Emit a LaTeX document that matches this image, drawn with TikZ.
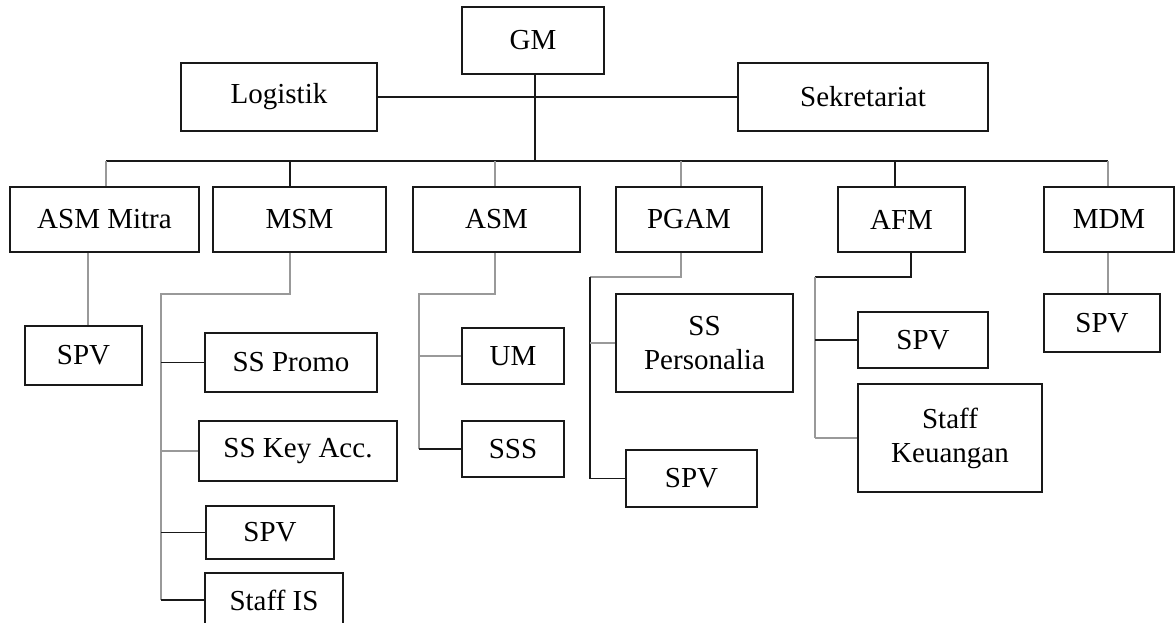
\documentclass[tikz,border=0pt]{standalone}
\usepackage{fontspec}
\setmainfont{Liberation Serif}
\begin{document}
\begin{tikzpicture}[x=1pt,y=-1pt,
  box/.style={draw=black!90, line width=1.6pt, inner sep=0pt, align=center, fill=white,
              font=\fontsize{29}{34}\selectfont},
  blk/.style={draw=black!90, line width=1.6pt},
  gry/.style={draw=black!40, line width=1.8pt}]
\useasboundingbox (0,0) rectangle (1176,622);
\clip (0,0) rectangle (1176,622);
\fill[white] (0,0) rectangle (1176,622);

% top level
\node[box, minimum width=142, minimum height=67] (GM)  at (533,40.5) {GM};
\node[box, minimum width=196, minimum height=68] (Log) at (279,97) {Logistik};
\node[box, minimum width=250, minimum height=68] (Sek) at (863,97) {Sekretariat};

% second row
\node[box, minimum width=189, minimum height=65] (ASMM) at (104.5,219.5) {ASM Mitra};
\node[box, minimum width=173, minimum height=65] (MSM)  at (299.5,219.5) {MSM};
\node[box, minimum width=167, minimum height=65] (ASM)  at (496.5,219.5) {ASM};
\node[box, minimum width=146, minimum height=65] (PGAM) at (689,219.5) {PGAM};
\node[box, minimum width=127, minimum height=65] (AFM)  at (901.5,219.5) {AFM};
\node[box, minimum width=130, minimum height=65] (MDM)  at (1109,219.5) {MDM};

% third level
\node[box, minimum width=117, minimum height=59] (SPVa) at (83.5,355.5) {SPV};
\node[box, minimum width=172, minimum height=59] (SSP)  at (291,362.5) {SS Promo};
\node[box, minimum width=198, minimum height=60] (SSK)  at (298,451) {SS Key Acc.};
\node[box, minimum width=128, minimum height=53] (SPVb) at (270,532.5) {SPV};
\node[box, minimum width=138, minimum height=54] (SIS)  at (274,600) {Staff IS};
\node[box, minimum width=102, minimum height=56] (UM)   at (513,356) {UM};
\node[box, minimum width=102, minimum height=56] (SSS)  at (513,449) {SSS};
\node[box, minimum width=177, minimum height=98] (SSPe) at (704.5,343) {SS\\Personalia};
\node[box, minimum width=131, minimum height=57] (SPVc) at (691.5,478.5) {SPV};
\node[box, minimum width=130, minimum height=56] (SPVd) at (923,340) {SPV};
\node[box, minimum width=184, minimum height=108] (SK)  at (950,438) {Staff\\Keuangan};
\node[box, minimum width=116, minimum height=58] (SPVe) at (1102,323) {SPV};

% bus
\coordinate (b1) at (106,161);
\coordinate (b2) at (290,161);
\coordinate (b3) at (495,161);
\coordinate (b4) at (681,161);
\coordinate (b5) at (895,161);
\coordinate (b6) at (1108,161);
\draw[blk] (GM.south -| 535,0) -- (b1 -| 535,0);
\draw[blk] (Log.east) -- (Sek.west);
\draw[blk] (b1) -- (b6);
\draw[gry] (b1) -- (b1 |- ASMM.north);
\draw[blk] (b2) -- (b2 |- MSM.north);
\draw[gry] (b3) -- (b3 |- ASM.north);
\draw[gry] (b4) -- (b4 |- PGAM.north);
\draw[blk] (b5) -- (b5 |- AFM.north);
\draw[gry] (b6) -- (b6 |- MDM.north);

% ASM Mitra
\coordinate (a0) at (88,300);
\draw[gry] (a0 |- ASMM.south) -- (a0 |- SPVa.north);

% MSM
\coordinate (m0) at (290,294);
\coordinate (m1) at (161,294);
\draw[gry] (m0 |- MSM.south) -- (m0) -- (m1) -- (m1 |- SIS.west);
\draw[blk] (m1 |- SSP.west) -- (SSP.west);
\draw[gry] (m1 |- SSK.west) -- (SSK.west);
\draw[blk] (m1 |- SPVb.west) -- (SPVb.west);
\draw[blk] (m1 |- SIS.west) -- (SIS.west);

% ASM
\coordinate (s0) at (495,294);
\coordinate (s1) at (419,294);
\draw[gry] (s0 |- ASM.south) -- (s0) -- (s1) -- (s1 |- SSS.west);
\draw[gry] (s1 |- UM.west) -- (UM.west);
\draw[blk] (s1 |- SSS.west) -- (SSS.west);

% PGAM
\coordinate (p0) at (681,277);
\coordinate (p1) at (590,277);
\draw[gry] (p0 |- PGAM.south) -- (p0) -- (p1);
\draw[blk] (p1) -- (p1 |- SPVc.west);
\draw[gry] (p1 |- SSPe.west) -- (SSPe.west);
\draw[blk] (p1 |- SPVc.west) -- (SPVc.west);

% AFM
\coordinate (f0) at (911,277);
\coordinate (f1) at (815,277);
\draw[blk] (f0 |- AFM.south) -- (f0) -- (f1);
\draw[gry] (f1) -- (f1 |- SK.west);
\draw[blk] (f1 |- SPVd.west) -- (SPVd.west);
\draw[gry] (f1 |- SK.west) -- (SK.west);

% MDM
\draw[gry] (b6 |- MDM.south) -- (b6 |- SPVe.north);
\end{tikzpicture}
\end{document}
